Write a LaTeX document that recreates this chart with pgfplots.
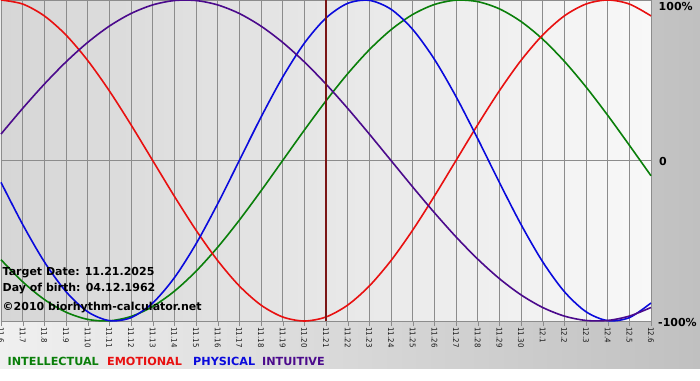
\documentclass[border=0pt]{standalone}
\usepackage{pgfplots}
\usepackage{pgfplotstable}
\pgfplotsset{compat=1.18}
\usepackage{fontspec}
\setmainfont{DejaVu Sans}
\newfontfamily\condfont{DejaVu Sans Condensed}
\definecolor{cint}{HTML}{0A7F0A}
\definecolor{cemo}{HTML}{E81010}
\definecolor{cphy}{HTML}{0A0ADC}
\definecolor{cintu}{HTML}{4B0A8C}
\definecolor{cgrid}{HTML}{8C8C8C}
\definecolor{cmark}{HTML}{7A1515}
\definecolor{bgL}{HTML}{F0F0F0}
\definecolor{bgR}{HTML}{C0C0C0}
\definecolor{plL}{HTML}{D6D6D6}
\definecolor{plR}{HTML}{F8F8F8}
\pgfplotstableread{
d int emo phy intu
0 -0.6182 1.0000 -0.1362 0.1646
1 -0.7557 0.9749 -0.3984 0.3247
2 -0.8660 0.9010 -0.6311 0.4759
3 -0.9450 0.7818 -0.8170 0.6142
4 -0.9898 0.6235 -0.9423 0.7357
5 -0.9989 0.4339 -0.9977 0.8372
6 -0.9718 0.2225 -0.9791 0.9158
7 -0.9096 0.0000 -0.8879 0.9694
8 -0.8146 -0.2225 -0.7308 0.9966
9 -0.6901 -0.4339 -0.5196 0.9966
10 -0.5406 -0.6235 -0.2698 0.9694
11 -0.3717 -0.7818 0.0000 0.9158
12 -0.1893 -0.9010 0.2698 0.8372
13 0.0000 -0.9749 0.5196 0.7357
14 0.1893 -1.0000 0.7308 0.6142
15 0.3717 -0.9749 0.8879 0.4759
16 0.5406 -0.9010 0.9791 0.3247
17 0.6901 -0.7818 0.9977 0.1646
18 0.8146 -0.6235 0.9423 0.0000
19 0.9096 -0.4339 0.8170 -0.1646
20 0.9718 -0.2225 0.6311 -0.3247
21 0.9989 0.0000 0.3984 -0.4759
22 0.9898 0.2225 0.1362 -0.6142
23 0.9450 0.4339 -0.1362 -0.7357
24 0.8660 0.6235 -0.3984 -0.8372
25 0.7557 0.7818 -0.6311 -0.9158
26 0.6182 0.9010 -0.8170 -0.9694
27 0.4582 0.9749 -0.9423 -0.9966
28 0.2817 1.0000 -0.9977 -0.9966
29 0.0951 0.9749 -0.9791 -0.9694
30 -0.0951 0.9010 -0.8879 -0.9158
}\bio
\begin{document}
\begin{tikzpicture}[x=1pt,y=1pt]
\shade[left color=bgL,right color=bgR] (0,11) rectangle (700,380);
\fill[white] (0,0) rectangle (700,11);
\begin{axis}[
  at={(1pt,380pt)}, anchor=north west,
  width=650pt, height=321pt, scale only axis,
  xmin=0, xmax=30, ymin=-1, ymax=1,
  clip=false,
  axis background/.style={shade,left color=plL,right color=plR},
  axis line style={draw=cgrid},
  xtick={0,...,30},
  xticklabels={11.6,11.7,11.8,11.9,11.10,11.11,11.12,11.13,11.14,11.15,11.16,11.17,11.18,11.19,11.20,11.21,11.22,11.23,11.24,11.25,11.26,11.27,11.28,11.29,11.30,12.1,12.2,12.3,12.4,12.5,12.6},
  xtick pos=left, tick align=outside,
  major tick length=5pt,
  xtick style={draw=cgrid},
  xticklabel style={rotate=-90, anchor=west, inner sep=1.3pt, font=\condfont\fontsize{7.8}{8}\selectfont, text=black!90},
  ytick={-1,0,1}, yticklabels=\empty, ytick style={draw=none}, ytick pos=right,
  xmajorgrids, ymajorgrids,
  grid style={draw=cgrid, line width=0.8pt},
]
\addplot[cint, line width=1.6pt, smooth] table[x=d,y=int] {\bio};
\addplot[cemo, line width=1.6pt, smooth] table[x=d,y=emo] {\bio};
\addplot[cphy, line width=1.6pt, smooth] table[x=d,y=phy] {\bio};
\addplot[cintu, line width=1.6pt, smooth] table[x=d,y=intu] {\bio};
\addplot[cmark, line width=2pt] coordinates {(15,-1) (15,1)};
\end{axis}
\begin{scope}[every node/.style={inner sep=0pt, font=\bfseries\fontsize{11}{13}\selectfont}]
\node[anchor=base west] at (658.5,369.3) {100\%};
\node[anchor=base west] at (659,214.3) {0};
\node[anchor=base west] at (658,54) {-100\%};
\node[anchor=base west] at (2.5,104.3) {Target Date: 11.21.2025};
\node[anchor=base west] at (2.5,89) {Day of birth: 04.12.1962};
\node[anchor=base west] at (2.5,69.3) {©2010 biorhythm-calculator.net};
\end{scope}
\begin{scope}[every node/.style={inner sep=0pt, anchor=base west, font=\bfseries\fontsize{11.2}{13}\selectfont}]
\node[text=cint] at (7.5,14.3) {INTELLECTUAL};
\node[text=cemo] at (107,14.3) {EMOTIONAL};
\node[text=cphy] at (193,14.3) {PHYSICAL};
\node[text=cintu] at (262,14.3) {INTUITIVE};
\end{scope}
\pgfresetboundingbox
\useasboundingbox (0,0) rectangle (700,380);
\end{tikzpicture}
\end{document}
